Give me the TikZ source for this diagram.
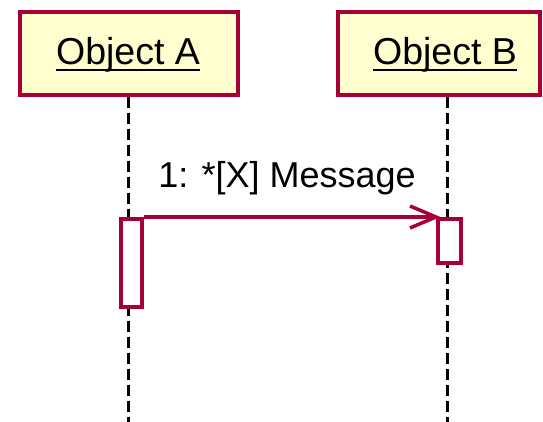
\documentclass[tikz,border=0pt]{standalone}
\usepackage{fontspec}
\setmainfont{Liberation Sans}
\definecolor{umlred}{HTML}{A80036}
\definecolor{umlfill}{HTML}{FEFECE}
\begin{document}
\begin{tikzpicture}[x=1pt,y=-1pt,
  objbox/.style={draw=umlred,fill=umlfill,line width=4.5pt},
  lifeline/.style={draw=black,line width=3pt,dash pattern=on 11pt off 5pt},
  actbox/.style={draw=umlred,fill=white,line width=3.5pt},
  msg/.style={draw=umlred,line width=3.5pt},
  uline/.style={draw=black,line width=2.5pt},
  lbl/.style={font=\fontsize{37.5}{44}\selectfont,inner sep=0pt},
  mlbl/.style={font=\fontsize{36}{42}\selectfont,inner sep=0pt}]
\useasboundingbox (0,0) rectangle (543,422);
% lifelines
\coordinate (la) at (128,97);
\coordinate (lae) at (128,422);
\coordinate (lb) at (447,97);
\coordinate (lbe) at (447,422);
\draw[lifeline] (la) -- (lae);
\draw[lifeline] (lb) -- (lbe);
% object boxes
\draw[objbox] (20,12) rectangle (238,95);
\draw[objbox] (338,12) rectangle (540,95);
\node[lbl,anchor=base] (ta) at (128,65) {Object A};
\node[lbl,anchor=base] (tb) at (445,65) {Object B};
\draw[uline] ([yshift=-5pt]ta.base west) -- ([yshift=-5pt]ta.base east);
\draw[uline] ([yshift=-5pt]tb.base west) -- ([yshift=-5pt]tb.base east);
% activations
\node[actbox,minimum width=21pt,minimum height=88pt,inner sep=0pt,anchor=north west] (aa) at (119,217) {};
\node[actbox,minimum width=23pt,minimum height=44pt,inner sep=0pt,anchor=north west] (ab) at (436,217) {};
% message
\draw[msg] (aa.north east) -- (ab.north west);
\draw[msg,line join=miter] ([shift={(-26pt,-11pt)}]ab.north west) -- (ab.north west) -- ([shift={(-26pt,11pt)}]ab.north west);
\node[mlbl,anchor=base] (ml) at (287,188) {1: *[X] Message};
\end{tikzpicture}
\end{document}
